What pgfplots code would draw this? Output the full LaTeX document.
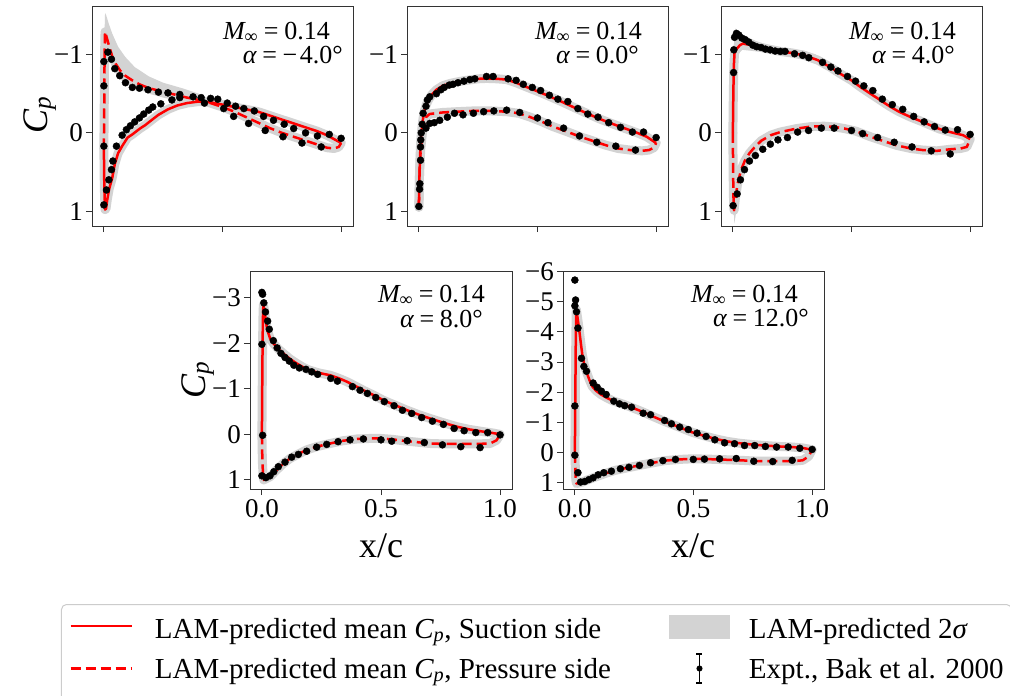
\documentclass[border=0pt]{standalone}
\usepackage{fontspec}
\setmainfont{Liberation Serif}
\usepackage{pgfplots}
\pgfplotsset{compat=1.18}
\definecolor{bandgray}{HTML}{D3D3D3}
\pgfplotsset{
  cpbase/.style={
    scale only axis, width=261pt, anchor=north west,
    y dir=reverse, xmin=-0.05, xmax=1.05,
    axis line style={black!80, line width=1pt},
    every tick/.style={black!80, line width=1pt},
    tick align=outside, major tick length=6pt,
    xtick pos=bottom, ytick pos=left,
    xtick={0,0.5,1},
    tick label style={font=\fontsize{27}{29}\selectfont},
    yticklabel style={inner xsep=3pt},
    xticklabel style={inner ysep=4pt},
  },
  ptop/.style={cpbase, height=220pt, ymin=-1.62, ymax=1.19, ytick={-1,0,1}, yticklabels={−1,0,1}, xticklabels={,,}},
  pbot/.style={cpbase, height=218pt, xticklabels={0.0,0.5,1.0}},
  band/.style={no marks, draw=bandgray, line width=9pt, line join=round, line cap=round, forget plot},
  bandfill/.style={no marks, draw=none, fill=bandgray, forget plot},
  suc/.style={no marks, draw=red, line width=2.5pt, line join=round, forget plot},
  pres/.style={no marks, draw=red, line width=2.5pt, line join=round, dash pattern=on 10pt off 5pt, forget plot},
  expt/.style={only marks, mark=*, mark size=3.5pt, black, forget plot},
}
\newcommand{\annA}{{\itshape M}\textsubscript{∞}\hspace{0.22em}=\hspace{0.22em}0.14}
\begin{document}
\begin{tikzpicture}
\path[use as bounding box] (0pt,0pt) rectangle (1010pt,-696pt);

% ---------------- Panel 1 : alpha = -4
\begin{axis}[ptop, at={(92pt,-6pt)}]
\addplot[bandfill] coordinates {(0.003,-1.3)(0.005,-1.53)(0.01,-1.5)(0.02,-1.4)(0.035,-1.27)(0.06,-1.1)(0.09,-0.97)(0.13,-0.84)(0.19,-0.72)(0.25,-0.64)(0.33,-0.57)(0.4,-0.5)(0.4,-0.38)(0.33,-0.4)(0.25,-0.45)(0.19,-0.5)(0.13,-0.58)(0.09,-0.64)(0.06,-0.7)(0.035,-0.85)(0.02,-1.0)(0.01,-1.1)(0.005,-1.0)(0.003,-0.5)} \closedcycle;
\addplot[band] coordinates {(0,0.2)(0.002,0.7)(0.005,0.98)(0.009,0.97)(0.014,0.86)(0.022,0.72)(0.035,0.58)(0.046,0.4)(0.06,0.26)(0.077,0.17)(0.1,0.06)(0.12,0.02)(0.15,-0.05)(0.175,-0.1)(0.2,-0.16)(0.23,-0.23)(0.27,-0.3)(0.31,-0.35)(0.35,-0.38)(0.4,-0.4)(0.45,-0.39)(0.5,-0.36)(0.55,-0.33)(0.6,-0.3)(0.65,-0.27)(0.7,-0.22)(0.75,-0.17)(0.8,-0.12)(0.85,-0.07)(0.9,-0.02)(0.94,0.03)(0.97,0.08)(1.0,0.13)};
\addplot[band] coordinates {(0,0.2)(0.002,-0.5)(0.003,-1.0)(0.005,-1.29)(0.01,-1.24)(0.021,-1.12)(0.035,-0.98)(0.05,-0.88)(0.07,-0.79)(0.09,-0.73)(0.12,-0.67)(0.15,-0.62)(0.19,-0.57)(0.23,-0.54)(0.27,-0.51)(0.31,-0.48)(0.35,-0.45)(0.4,-0.42)(0.45,-0.38)(0.5,-0.33)(0.55,-0.27)(0.6,-0.2)(0.65,-0.13)(0.7,-0.06)(0.75,0.0)(0.8,0.05)(0.85,0.1)(0.9,0.15)(0.94,0.19)(0.97,0.2)(0.99,0.18)(1.0,0.13)};
\addplot[suc] coordinates {(0,0.2)(0.002,0.7)(0.005,0.98)(0.009,0.97)(0.014,0.86)(0.022,0.72)(0.035,0.58)(0.046,0.4)(0.06,0.26)(0.077,0.17)(0.1,0.06)(0.12,0.02)(0.15,-0.05)(0.175,-0.1)(0.2,-0.16)(0.23,-0.23)(0.27,-0.3)(0.31,-0.35)(0.35,-0.38)(0.4,-0.4)(0.45,-0.39)(0.5,-0.36)(0.55,-0.33)(0.6,-0.3)(0.65,-0.27)(0.7,-0.22)(0.75,-0.17)(0.8,-0.12)(0.85,-0.07)(0.9,-0.02)(0.94,0.03)(0.97,0.08)(1.0,0.13)};
\addplot[pres] coordinates {(0,0.2)(0.002,-0.5)(0.003,-1.0)(0.005,-1.29)(0.01,-1.24)(0.021,-1.12)(0.035,-0.98)(0.05,-0.88)(0.07,-0.79)(0.09,-0.73)(0.12,-0.67)(0.15,-0.62)(0.19,-0.57)(0.23,-0.54)(0.27,-0.51)(0.31,-0.48)(0.35,-0.45)(0.4,-0.42)(0.45,-0.38)(0.5,-0.33)(0.55,-0.27)(0.6,-0.2)(0.65,-0.13)(0.7,-0.06)(0.75,0.0)(0.8,0.05)(0.85,0.1)(0.9,0.15)(0.94,0.19)(0.97,0.2)(0.99,0.18)(1.0,0.13)};
\addplot[expt] coordinates {(0.0,0.92)(0.011,0.73)(0.021,0.6)(0.032,0.47)(0.038,0.36)(0.053,0.17)(0.077,0.03)(0.095,-0.04)(0.112,-0.09)(0.13,-0.14)(0.15,-0.19)(0.168,-0.24)(0.189,-0.29)(0.206,-0.33)(0.24,-0.37)(0.287,-0.42)(0.32,-0.45)(0.376,-0.46)(0.424,-0.38)(0.505,-0.31)(0.547,-0.21)(0.61,-0.12)(0.68,-0.03)(0.755,0.05)(0.835,0.13)(0.916,0.18)
(0.0,0.17)(0.0,-0.6)(0.0,-0.91)(0.017,-1.03)(0.032,-0.94)(0.046,-0.82)(0.067,-0.73)(0.091,-0.64)(0.12,-0.58)(0.15,-0.57)(0.186,-0.55)(0.23,-0.52)(0.27,-0.51)(0.32,-0.49)(0.41,-0.45)(0.45,-0.44)(0.48,-0.43)(0.52,-0.38)(0.555,-0.34)(0.59,-0.31)(0.634,-0.28)(0.673,-0.21)(0.715,-0.16)(0.76,-0.11)(0.80,-0.055)(0.85,0.0)(0.9,0.04)(0.95,0.02)(1.0,0.07)};
\end{axis}

% ---------------- Panel 2 : alpha = 0
\begin{axis}[ptop, at={(407pt,-6pt)}]
\addplot[band] coordinates {(0.0,0.95)(0.001,0.78)(0.003,0.5)(0.005,0.3)(0.008,0.1)(0.011,0.0)(0.016,-0.15)(0.021,-0.25)(0.03,-0.35)(0.04,-0.42)(0.055,-0.49)(0.074,-0.55)(0.1,-0.6)(0.13,-0.63)(0.17,-0.655)(0.2,-0.67)(0.25,-0.69)(0.285,-0.695)(0.33,-0.69)(0.37,-0.68)(0.41,-0.64)(0.45,-0.59)(0.5,-0.53)(0.54,-0.48)(0.6,-0.4)(0.65,-0.33)(0.7,-0.26)(0.76,-0.18)(0.82,-0.11)(0.87,-0.055)(0.92,0.0)(0.96,0.05)(1.0,0.13)};
\addplot[band] coordinates {(0.0,0.95)(0.003,0.5)(0.008,0.2)(0.015,0.0)(0.022,-0.12)(0.03,-0.2)(0.045,-0.24)(0.07,-0.25)(0.1,-0.26)(0.16,-0.27)(0.23,-0.28)(0.3,-0.28)(0.37,-0.27)(0.42,-0.25)(0.47,-0.2)(0.52,-0.14)(0.565,-0.08)(0.62,-0.02)(0.68,0.05)(0.74,0.11)(0.79,0.16)(0.84,0.2)(0.89,0.22)(0.94,0.23)(0.97,0.22)(0.99,0.19)(1.0,0.13)};
\addplot[suc] coordinates {(0.0,0.95)(0.001,0.78)(0.003,0.5)(0.005,0.3)(0.008,0.1)(0.011,0.0)(0.016,-0.15)(0.021,-0.25)(0.03,-0.35)(0.04,-0.42)(0.055,-0.49)(0.074,-0.55)(0.1,-0.6)(0.13,-0.63)(0.17,-0.655)(0.2,-0.67)(0.25,-0.69)(0.285,-0.695)(0.33,-0.69)(0.37,-0.68)(0.41,-0.64)(0.45,-0.59)(0.5,-0.53)(0.54,-0.48)(0.6,-0.4)(0.65,-0.33)(0.7,-0.26)(0.76,-0.18)(0.82,-0.11)(0.87,-0.055)(0.92,0.0)(0.96,0.05)(1.0,0.13)};
\addplot[pres] coordinates {(0.0,0.95)(0.003,0.5)(0.008,0.2)(0.015,0.0)(0.022,-0.12)(0.03,-0.2)(0.045,-0.24)(0.07,-0.25)(0.1,-0.26)(0.16,-0.27)(0.23,-0.28)(0.3,-0.28)(0.37,-0.27)(0.42,-0.25)(0.47,-0.2)(0.52,-0.14)(0.565,-0.08)(0.62,-0.02)(0.68,0.05)(0.74,0.11)(0.79,0.16)(0.84,0.2)(0.89,0.22)(0.94,0.23)(0.97,0.22)(0.99,0.19)(1.0,0.13)};
\addplot[expt] coordinates {(0,0.94)(0.003,0.72)(0.004,0.65)(0.007,0.35)(0.007,0.18)(0.008,0.09)(0.01,0.0)(0.014,-0.11)(0.018,-0.25)(0.03,-0.34)(0.036,-0.42)(0.046,-0.46)(0.074,-0.5)(0.093,-0.55)(0.107,-0.58)(0.128,-0.61)(0.144,-0.62)(0.165,-0.64)(0.19,-0.66)(0.215,-0.68)(0.236,-0.69)(0.285,-0.72)(0.313,-0.72)(0.376,-0.69)(0.41,-0.67)(0.44,-0.62)(0.478,-0.58)(0.513,-0.54)(0.55,-0.48)(0.586,-0.43)(0.628,-0.40)(0.67,-0.31)(0.712,-0.24)(0.755,-0.2)(0.80,-0.13)(0.85,-0.07)(0.90,-0.01)(0.947,-0.01)(1.0,0.06)
(0.03,-0.06)(0.046,-0.12)(0.065,-0.13)(0.088,-0.16)(0.12,-0.2)(0.15,-0.25)(0.186,-0.23)(0.23,-0.25)(0.273,-0.27)(0.316,-0.28)(0.37,-0.29)(0.425,-0.26)(0.5,-0.19)(0.544,-0.13)(0.61,-0.06)(0.677,0.04)(0.75,0.12)(0.83,0.17)(0.913,0.22)};
\end{axis}

% ---------------- Panel 3 : alpha = 4
\begin{axis}[ptop, at={(721pt,-6pt)}]
\addplot[bandfill] coordinates {(0.003,-0.7)(0.005,-1.2)(0.01,-1.33)(0.02,-1.31)(0.04,-1.26)(0.07,-1.21)(0.1,-1.17)(0.15,-1.12)(0.2,-1.09)(0.3,-1.05)(0.35,-1.0)(0.35,-0.88)(0.3,-0.94)(0.2,-0.99)(0.15,-1.02)(0.1,-1.04)(0.07,-1.05)(0.04,-1.06)(0.02,-1.0)(0.01,-0.95)(0.005,-0.7)} \closedcycle;
\addplot[bandfill] coordinates {(0.002,0.6)(0.004,1.0)(0.006,1.16)(0.012,1.05)(0.02,0.82)(0.035,0.56)(0.035,0.4)(0.02,0.56)(0.01,0.75)(0.005,0.85)(0.003,0.6)} \closedcycle;
\addplot[band] coordinates {(0.0,0.0)(0.002,-0.5)(0.004,-0.85)(0.007,-1.02)(0.015,-1.07)(0.03,-1.12)(0.042,-1.14)(0.06,-1.13)(0.08,-1.12)(0.105,-1.1)(0.15,-1.07)(0.2,-1.04)(0.25,-1.02)(0.3,-0.99)(0.357,-0.93)(0.41,-0.84)(0.45,-0.76)(0.5,-0.67)(0.54,-0.58)(0.58,-0.5)(0.62,-0.42)(0.66,-0.34)(0.7,-0.27)(0.75,-0.2)(0.8,-0.14)(0.83,-0.1)(0.87,-0.05)(0.916,-0.01)(0.97,0.03)(1.0,0.08)};
\addplot[band] coordinates {(0.0,0.0)(0.001,0.5)(0.003,0.9)(0.005,0.99)(0.01,0.85)(0.02,0.65)(0.035,0.47)(0.05,0.36)(0.07,0.26)(0.09,0.19)(0.12,0.1)(0.16,0.03)(0.2,-0.01)(0.27,-0.055)(0.33,-0.08)(0.385,-0.085)(0.43,-0.075)(0.47,-0.055)(0.52,-0.02)(0.58,0.05)(0.63,0.1)(0.69,0.16)(0.75,0.2)(0.8,0.22)(0.86,0.23)(0.916,0.21)(0.96,0.2)(0.986,0.18)(1.0,0.08)};
\addplot[suc] coordinates {(0.0,0.0)(0.002,-0.5)(0.004,-0.85)(0.007,-1.02)(0.015,-1.07)(0.03,-1.12)(0.042,-1.14)(0.06,-1.13)(0.08,-1.12)(0.105,-1.1)(0.15,-1.07)(0.2,-1.04)(0.25,-1.02)(0.3,-0.99)(0.357,-0.93)(0.41,-0.84)(0.45,-0.76)(0.5,-0.67)(0.54,-0.58)(0.58,-0.5)(0.62,-0.42)(0.66,-0.34)(0.7,-0.27)(0.75,-0.2)(0.8,-0.14)(0.83,-0.1)(0.87,-0.05)(0.916,-0.01)(0.97,0.03)(1.0,0.08)};
\addplot[pres] coordinates {(0.0,0.0)(0.001,0.5)(0.003,0.9)(0.005,0.99)(0.01,0.85)(0.02,0.65)(0.035,0.47)(0.05,0.36)(0.07,0.26)(0.09,0.19)(0.12,0.1)(0.16,0.03)(0.2,-0.01)(0.27,-0.055)(0.33,-0.08)(0.385,-0.085)(0.43,-0.075)(0.47,-0.055)(0.52,-0.02)(0.58,0.05)(0.63,0.1)(0.69,0.16)(0.75,0.2)(0.8,0.22)(0.86,0.23)(0.916,0.21)(0.96,0.2)(0.986,0.18)(1.0,0.08)};
\addplot[expt] coordinates {(0.003,-0.77)(0.004,-1.06)(0.007,-1.22)(0.015,-1.27)(0.025,-1.25)(0.038,-1.21)(0.052,-1.19)(0.067,-1.16)(0.084,-1.12)(0.1,-1.10)(0.119,-1.09)(0.137,-1.07)(0.157,-1.06)(0.178,-1.045)(0.2,-1.04)(0.22,-1.04)(0.26,-1.01)(0.294,-0.99)(0.32,-0.96)(0.378,-0.9)(0.413,-0.84)(0.443,-0.79)(0.483,-0.72)(0.517,-0.66)(0.552,-0.6)(0.59,-0.54)(0.63,-0.43)(0.672,-0.36)(0.716,-0.30)(0.762,-0.21)(0.806,-0.14)(0.85,-0.08)(0.895,-0.035)(0.947,-0.04)(1.0,0.02)
(0.001,0.93)(0.018,0.78)(0.032,0.6)(0.049,0.47)(0.07,0.36)(0.095,0.29)(0.126,0.21)(0.158,0.145)(0.19,0.09)(0.23,0.06)(0.273,-0.01)(0.319,-0.03)(0.373,-0.06)(0.427,-0.06)(0.5,-0.03)(0.547,0.01)(0.61,0.06)(0.68,0.12)(0.755,0.18)(0.836,0.23)(0.916,0.27)};
\end{axis}

% ---------------- Panel 4 : alpha = 8
\begin{axis}[pbot, at={(250pt,-271pt)}, width=262pt, ymin=-3.59, ymax=1.2, ytick={-3,-2,-1,0,1}, yticklabels={−3,−2,−1,0,1},
  legend columns=2,
  legend style={at={(axis description cs:-0.7214,-0.5275)}, anchor=north west,
    draw=black!20, line width=1pt, rounded corners=5pt, fill=white,
    font=\fontsize{29}{32}\selectfont,
    inner xsep=8pt, inner ysep=10pt, row sep=8.25pt,
    nodes={inner sep=0pt, text height=21pt, text depth=7pt},
    /tikz/column 1/.style={column sep=22pt},
    /tikz/column 2/.style={column sep=58pt},
    /tikz/column 3/.style={column sep=19pt}},
  legend cell align=left]
\addlegendimage{legend image code/.code={\draw[sharp corners, red, line width=2.5pt] (0pt,5pt) -- (61pt,5pt);}}
\addlegendentry{LAM-predicted mean {\itshape C}\textsubscript{\itshape p}, Suction side}
\addlegendimage{legend image code/.code={\fill[sharp corners, bandgray] (0pt,-7pt) rectangle (60pt,16pt);}}
\addlegendentry{LAM-predicted 2{\itshape σ}}
\addlegendimage{legend image code/.code={\draw[sharp corners, red, line width=2.5pt, dash pattern=on 10pt off 5pt] (0pt,2.5pt) -- (61pt,2.5pt);}}
\addlegendentry{LAM-predicted mean {\itshape C}\textsubscript{\itshape p}, Pressure side}
\addlegendimage{legend image code/.code={\path (30pt,-22pt); \draw[sharp corners, black, line width=1.5pt] (30pt,-12pt) -- (30pt,17pt); \draw[sharp corners, black, line width=1.5pt] (27pt,-12pt) -- (33pt,-12pt); \draw[sharp corners, black, line width=1.5pt] (27pt,17pt) -- (33pt,17pt); \fill[black] (30pt,2.5pt) circle (2.5pt);}}
\addlegendentry{Expt., Bak et al. 2000}
\addplot[band] coordinates {(0.0,0.0)(0.002,-1.5)(0.004,-2.5)(0.006,-2.85)(0.01,-2.75)(0.015,-2.55)(0.022,-2.3)(0.035,-2.1)(0.048,-2.0)(0.07,-1.87)(0.09,-1.78)(0.12,-1.65)(0.146,-1.56)(0.175,-1.47)(0.2,-1.41)(0.24,-1.35)(0.286,-1.3)(0.32,-1.24)(0.356,-1.16)(0.39,-1.07)(0.426,-0.97)(0.47,-0.86)(0.51,-0.75)(0.56,-0.64)(0.61,-0.53)(0.66,-0.43)(0.706,-0.35)(0.76,-0.26)(0.818,-0.17)(0.87,-0.11)(0.93,-0.06)(0.97,-0.03)(1.0,0.0)};
\addplot[band] coordinates {(0.0,0.0)(0.002,0.6)(0.005,0.9)(0.008,1.0)(0.015,0.98)(0.034,0.93)(0.062,0.78)(0.09,0.64)(0.118,0.53)(0.15,0.44)(0.188,0.34)(0.23,0.27)(0.286,0.2)(0.34,0.14)(0.4,0.1)(0.45,0.09)(0.5,0.09)(0.55,0.11)(0.594,0.14)(0.65,0.17)(0.706,0.2)(0.77,0.21)(0.846,0.21)(0.9,0.21)(0.958,0.2)(0.985,0.13)(1.0,0.0)};
\addplot[suc] coordinates {(0.0,0.0)(0.002,-1.5)(0.004,-2.5)(0.006,-2.85)(0.01,-2.75)(0.015,-2.55)(0.022,-2.3)(0.035,-2.1)(0.048,-2.0)(0.07,-1.87)(0.09,-1.78)(0.12,-1.65)(0.146,-1.56)(0.175,-1.47)(0.2,-1.41)(0.24,-1.35)(0.286,-1.3)(0.32,-1.24)(0.356,-1.16)(0.39,-1.07)(0.426,-0.97)(0.47,-0.86)(0.51,-0.75)(0.56,-0.64)(0.61,-0.53)(0.66,-0.43)(0.706,-0.35)(0.76,-0.26)(0.818,-0.17)(0.87,-0.11)(0.93,-0.06)(0.97,-0.03)(1.0,0.0)};
\addplot[pres] coordinates {(0.0,0.0)(0.002,0.6)(0.005,0.9)(0.008,1.0)(0.015,0.98)(0.034,0.93)(0.062,0.78)(0.09,0.64)(0.118,0.53)(0.15,0.44)(0.188,0.34)(0.23,0.27)(0.286,0.2)(0.34,0.14)(0.4,0.1)(0.45,0.09)(0.5,0.09)(0.55,0.11)(0.594,0.14)(0.65,0.17)(0.706,0.2)(0.77,0.21)(0.846,0.21)(0.9,0.21)(0.958,0.2)(0.985,0.13)(1.0,0.0)};
\addplot[expt] coordinates {(0.0,-3.12)(0.003,-3.08)(0.008,-2.89)(0.015,-2.69)(0.024,-2.49)(0.031,-2.31)(0.0,-1.98)(0.003,0.02)(0.048,-2.06)(0.064,-1.90)(0.08,-1.78)(0.097,-1.69)(0.115,-1.61)(0.134,-1.52)(0.157,-1.46)(0.185,-1.43)(0.209,-1.375)(0.234,-1.32)(0.289,-1.23)(0.317,-1.17)(0.38,-1.05)(0.412,-0.97)(0.443,-0.90)(0.478,-0.81)(0.514,-0.72)(0.555,-0.63)(0.59,-0.53)(0.629,-0.46)(0.671,-0.37)(0.716,-0.29)(0.762,-0.22)(0.807,-0.13)(0.849,-0.08)(0.898,-0.04)(0.948,-0.04)(1.0,0.01)
(0.0,0.91)(0.017,0.95)(0.034,0.91)(0.05,0.82)(0.069,0.71)(0.097,0.61)(0.125,0.5)(0.153,0.44)(0.188,0.37)(0.23,0.28)(0.272,0.22)(0.32,0.16)(0.37,0.12)(0.426,0.10)(0.5,0.12)(0.545,0.15)(0.61,0.14)(0.682,0.18)(0.758,0.23)(0.835,0.27)(0.916,0.29)};
\end{axis}

% ---------------- Panel 5 : alpha = 12
\begin{axis}[pbot, at={(563pt,-271pt)}, ymin=-6.02, ymax=1.2, ytick={-6,-5,-4,-3,-2,-1,0,1}, yticklabels={−6,−5,−4,−3,−2,−1,0,1}]
\addplot[band] coordinates {(0.0,0.0)(0.002,-2.0)(0.004,-3.8)(0.006,-4.75)(0.009,-4.6)(0.017,-4.15)(0.024,-3.7)(0.031,-3.27)(0.04,-2.9)(0.052,-2.61)(0.063,-2.38)(0.073,-2.2)(0.09,-2.05)(0.11,-1.93)(0.13,-1.84)(0.16,-1.72)(0.2,-1.62)(0.24,-1.5)(0.284,-1.36)(0.33,-1.2)(0.38,-1.03)(0.44,-0.85)(0.494,-0.68)(0.55,-0.55)(0.593,-0.46)(0.64,-0.38)(0.69,-0.32)(0.75,-0.27)(0.8,-0.24)(0.86,-0.21)(0.916,-0.19)(0.96,-0.16)(1.0,-0.1)};
\addplot[band] coordinates {(0.0,0.0)(0.002,0.5)(0.004,0.9)(0.007,1.02)(0.015,1.0)(0.031,0.97)(0.06,0.88)(0.087,0.8)(0.13,0.68)(0.171,0.58)(0.22,0.5)(0.27,0.42)(0.33,0.33)(0.38,0.26)(0.44,0.22)(0.494,0.2)(0.56,0.21)(0.635,0.23)(0.7,0.25)(0.775,0.28)(0.85,0.28)(0.916,0.28)(0.96,0.25)(0.985,0.12)(1.0,-0.1)};
\addplot[suc] coordinates {(0.0,0.0)(0.002,-2.0)(0.004,-3.8)(0.006,-4.75)(0.009,-4.6)(0.017,-4.15)(0.024,-3.7)(0.031,-3.27)(0.04,-2.9)(0.052,-2.61)(0.063,-2.38)(0.073,-2.2)(0.09,-2.05)(0.11,-1.93)(0.13,-1.84)(0.16,-1.72)(0.2,-1.62)(0.24,-1.5)(0.284,-1.36)(0.33,-1.2)(0.38,-1.03)(0.44,-0.85)(0.494,-0.68)(0.55,-0.55)(0.593,-0.46)(0.64,-0.38)(0.69,-0.32)(0.75,-0.27)(0.8,-0.24)(0.86,-0.21)(0.916,-0.19)(0.96,-0.16)(1.0,-0.1)};
\addplot[pres] coordinates {(0.0,0.0)(0.002,0.5)(0.004,0.9)(0.007,1.02)(0.015,1.0)(0.031,0.97)(0.06,0.88)(0.087,0.8)(0.13,0.68)(0.171,0.58)(0.22,0.5)(0.27,0.42)(0.33,0.33)(0.38,0.26)(0.44,0.22)(0.494,0.2)(0.56,0.21)(0.635,0.23)(0.7,0.25)(0.775,0.28)(0.85,0.28)(0.916,0.28)(0.96,0.25)(0.985,0.12)(1.0,-0.1)};
\addplot[expt] coordinates {(0,-5.72)(0,-4.87)(0.003,-5.06)(0.007,-4.67)(0.013,-4.13)(0,-1.55)(0,0.08)(0.028,-3.13)(0.038,-2.86)(0.049,-2.70)(0.077,-2.31)(0.094,-2.17)(0.112,-2.04)(0.132,-1.93)(0.164,-1.71)(0.188,-1.62)(0.21,-1.56)(0.239,-1.51)(0.288,-1.31)(0.319,-1.26)(0.378,-1.07)(0.407,-0.96)(0.442,-0.85)(0.478,-0.77)(0.515,-0.65)(0.553,-0.54)(0.59,-0.43)(0.631,-0.33)(0.673,-0.30)(0.715,-0.24)(0.758,-0.24)(0.803,-0.21)(0.85,-0.19)(0.899,-0.19)(0.948,-0.15)(1.0,-0.11)
(0.013,0.66)(0.024,0.97)(0.042,0.95)(0.059,0.89)(0.077,0.83)(0.098,0.73)(0.122,0.66)(0.154,0.61)(0.192,0.53)(0.228,0.48)(0.272,0.42)(0.319,0.33)(0.371,0.26)(0.424,0.22)(0.499,0.22)(0.546,0.21)(0.61,0.2)(0.68,0.19)(0.754,0.28)(0.834,0.29)(0.916,0.25)};
\end{axis}

% ---------------- texts
\begin{scope}[every node/.style={font=\fontsize{26}{28}\selectfont, inner sep=0pt},
  l1/.style={anchor=base east, text height=18pt, text depth=2pt},
  l2/.style={anchor=base east, text height=18pt, text depth=2pt}]
\node[l1] at (330pt,-39pt) {\annA};
\node[l2] at (343pt,-63pt) {{\itshape α}\hspace{0.22em}=\hspace{0.22em}−\hspace{0.1em}4.0°};
\node[l1] at (642pt,-39pt) {\annA};
\node[l2] at (639pt,-63pt) {{\itshape α}\hspace{0.22em}=\hspace{0.22em}0.0°};
\node[l1] at (956pt,-39pt) {\annA};
\node[l2] at (955pt,-63pt) {{\itshape α}\hspace{0.22em}=\hspace{0.22em}4.0°};
\node[l1] at (485pt,-302pt) {\annA};
\node[l2] at (483pt,-327pt) {{\itshape α}\hspace{0.22em}=\hspace{0.22em}8.0°};
\node[l1] at (798pt,-302pt) {\annA};
\node[l2] at (809pt,-326pt) {{\itshape α}\hspace{0.22em}=\hspace{0.22em}12.0°};
\end{scope}
\begin{scope}[every node/.style={font=\fontsize{36}{40}\selectfont, inner sep=0pt}]
\node[rotate=90, anchor=base] at (47pt,-115pt) {{\itshape C}\textsubscript{\itshape p}};
\node[rotate=90, anchor=base] at (205pt,-380pt) {{\itshape C}\textsubscript{\itshape p}};
\node[anchor=base] at (381pt,-557pt) {x/c};
\node[anchor=base] at (693pt,-557pt) {x/c};
\end{scope}
\end{tikzpicture}
\end{document}
